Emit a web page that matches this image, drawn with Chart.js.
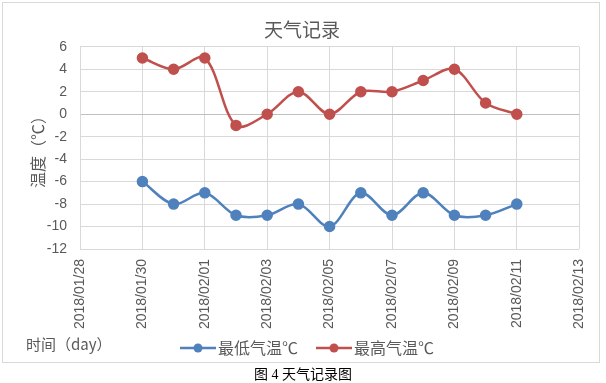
<!DOCTYPE html>
<html><head><meta charset="utf-8">
<script src="https://cdn.jsdelivr.net/npm/chart.js@4"></script>
<style>
html,body{margin:0;padding:0;background:#fff;width:606px;height:383px;overflow:hidden;position:relative;}
#frame{position:absolute;left:2px;top:2px;width:598px;height:361px;border:1px solid #d9d9d9;box-sizing:border-box;}
#wrap{position:absolute;left:0;top:0;width:606px;height:390px;}
#xname{position:absolute;left:26px;top:334px;font:15px "Noto Sans CJK SC";color:#595959;line-height:20px;}
#caption{position:absolute;left:0;width:606px;top:366px;text-align:center;font:14px "Liberation Serif","Noto Sans CJK SC";color:#000;line-height:18px;}
</style></head><body>
<div id="frame"></div>
<div id="wrap"><canvas id="c" width="606" height="390"></canvas></div>
<div id="xname">时间（day）</div>
<div id="caption">图 4 天气记录图</div>
<script>
const chartTitle = "天气记录";
const yAxisTitle = "温度（℃）";
const seriesNames = ["最低气温℃", "最高气温℃"];
const dates = ["2018/01/30","2018/01/31","2018/02/01","2018/02/02","2018/02/03","2018/02/04","2018/02/05","2018/02/06","2018/02/07","2018/02/08","2018/02/09","2018/02/10","2018/02/11"];
const lowTemps  = [-6, -8, -7, -9, -9, -8, -10, -7, -9, -7, -9, -9, -8];
const highTemps = [ 5,  4,  5, -1,  0,  2,   0,  2,  2,  3,  4,  1,  0];
const xTickLabels = ["2018/01/28","2018/01/30","2018/02/01","2018/02/03","2018/02/05","2018/02/07","2018/02/09","2018/02/11","2018/02/13"];
const yMin = -12, yMax = 6, yStep = 2;

const colors = ["#4F81BD", "#C0504D"];
const textColor = "#595959";

function dayNum(s){ const p = s.split('/').map(Number); return Date.UTC(p[0], p[1]-1, p[2]) / 86400000; }
const base = dayNum(xTickLabels[0]);
const xMax = dayNum(xTickLabels[xTickLabels.length-1]) - base;
const xStep = dayNum(xTickLabels[1]) - base;
const toPoints = vals => dates.map((d, i) => ({x: dayNum(d) - base, y: vals[i]}));

function legendIcon(color){
  const c = document.createElement('canvas');
  c.width = 36; c.height = 12;
  const g = c.getContext('2d');
  g.strokeStyle = color; g.lineWidth = 2.5;
  g.beginPath(); g.moveTo(0, 6); g.lineTo(36, 6); g.stroke();
  g.fillStyle = color; g.beginPath(); g.arc(18, 6, 4.5, 0, Math.PI*2); g.fill();
  return c;
}
const icons = colors.map(legendIcon);

const fontFamily = '"Liberation Sans", "Noto Sans CJK SC", sans-serif';
const cjkFamily = '"Noto Sans CJK SC", sans-serif';

const boxShift = {
  id: 'boxShift',
  afterLayout(chart) {
    const lg = chart.legend;
    if (lg) { lg.top -= 18; lg.bottom -= 18; }
    const tb = chart.titleBlock;
    if (tb) { tb.left -= 8; tb.right -= 8; }
  }
};

new Chart(document.getElementById('c'), {
  type: 'line',
  data: {
    datasets: [
      {label: seriesNames[0], data: toPoints(lowTemps), borderColor: colors[0], backgroundColor: colors[0],
       borderWidth: 2.5, pointRadius: 4.5, pointHoverRadius: 4.5, tension: 0.33, pointStyle: 'circle'},
      {label: seriesNames[1], data: toPoints(highTemps), borderColor: colors[1], backgroundColor: colors[1],
       borderWidth: 2.5, pointRadius: 4.5, pointHoverRadius: 4.5, tension: 0.33, pointStyle: 'circle'}
    ]
  },
  plugins: [boxShift],
  options: {
    responsive: false,
    animation: false,
    layout: {padding: {left: 37, right: 23, top: 0, bottom: 6}},
    plugins: {
      title: {display: true, text: chartTitle, color: textColor,
        font: {family: cjkFamily, size: 19, weight: 'normal'}, padding: {top: 18, bottom: 6}},
      legend: {position: 'bottom',
        labels: {usePointStyle: true, pointStyleWidth: 24, color: textColor, padding: 24,
          font: {family: cjkFamily, size: 16},
          generateLabels: chart => chart.data.datasets.map((ds, i) => ({
            text: ds.label, fillStyle: colors[i], strokeStyle: colors[i], pointStyle: icons[i],
            fontColor: textColor, lineWidth: 0, datasetIndex: i, hidden: false}))
        }},
      tooltip: {enabled: false}
    },
    scales: {
      x: {type: 'linear', min: 0, max: xMax,
        ticks: {stepSize: xStep, autoSkip: false, maxRotation: 90, minRotation: 90, padding: 10,
          color: textColor, font: {family: fontFamily, size: 14},
          callback: v => xTickLabels[Math.round(v / xStep)] || ''},
        grid: {color: '#d9d9d9', drawTicks: false},
        border: {display: false},
        afterFit: s => { s.height = 85; }
      },
      y: {min: yMin, max: yMax,
        ticks: {stepSize: yStep, autoSkip: false, color: textColor, padding: 13, font: {family: fontFamily, size: 14}},
        grid: {color: ctx => (ctx.tick && ctx.tick.value === 0) ? '#bfbfbf' : '#d9d9d9', drawTicks: false},
        border: {display: true, color: '#d9d9d9'},
        title: {display: true, text: yAxisTitle, color: textColor, padding: {top: -9, bottom: 0},
          font: {family: cjkFamily, size: 16}},
        afterFit: s => { s.width = 43; }
      }
    }
  }
});
</script>
</body></html>
